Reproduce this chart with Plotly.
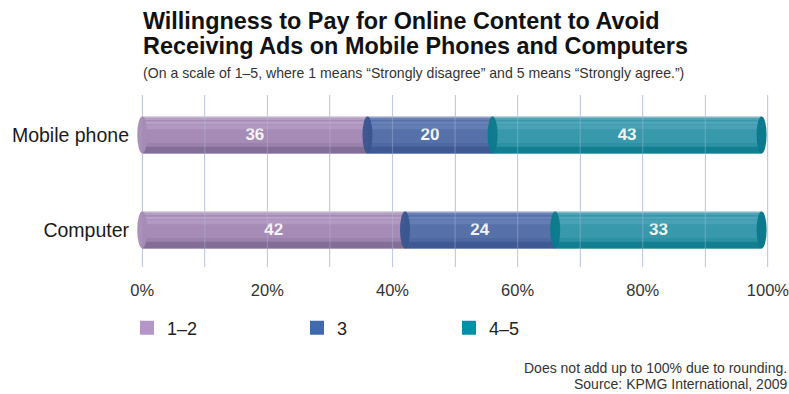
import plotly.graph_objects as go

# Survey data: share of respondents per agreement band
categories = ["Computer", "Mobile phone"]
band_names = ["1–2", "3", "4–5"]
band_values = {
    "1–2": [42, 36],
    "3": [24, 20],
    "4–5": [33, 43],
}
x_ticks = [0, 20, 40, 60, 80, 100]
x_tick_labels = ["0%", "20%", "40%", "60%", "80%", "100%"]

# Styling for each band: main, dark rim, light highlight, legend swatch
band_style = {
    "1–2": dict(main="#A58BB6", dark="#7C6892", light="#BBA6CA", swatch="#B497C8"),
    "3": dict(main="#5671A9", dark="#39558F", light="#6E88BB", swatch="#4169AE"),
    "4–5": dict(main="#3898AC", dark="#0B7A8C", light="#55AABB", swatch="#0090A8"),
}

FONT = "Liberation Sans, Arial, Helvetica, sans-serif"
W, H = 789, 394
L, R, T, B = 136, 18, 95, 127
PW, PH = W - L - R, H - T - B
BAR_W = 0.39


def px_x(p):
    return (p - L) / PW


def px_y(p):
    return (H - B - p) / PH


fig = go.Figure()

bases = [0 for _ in categories]
cap_shapes = []
for i, name in enumerate(band_names):
    vals = band_values[name]
    st = band_style[name]
    leg = "legend" if i == 0 else f"legend{i + 1}"
    # body of the cylinder segment
    fig.add_trace(go.Bar(
        y=categories, x=vals, base=bases, orientation="h", name=name,
        width=BAR_W, marker=dict(color=st["main"], line=dict(width=0)),
        text=[str(v) for v in vals], textposition="inside",
        insidetextanchor="middle", textangle=0,
        textfont=dict(family=FONT, size=17, color="#F4F4F4", weight="bold"),
        showlegend=False, hoverinfo="skip",
    ))
    # legend swatch for the band
    fig.add_trace(go.Bar(
        y=[None], x=[None], orientation="h", name=name,
        marker=dict(color=st["swatch"], line=dict(color=st["swatch"], width=2)),
        legend=leg, hoverinfo="skip",
    ))
    # shading strips: dark underside, soft highlights on the upper half
    strips = [
        (0.07, -BAR_W / 2, st["dark"], 0.85),
        (0.04, -BAR_W / 2 + 0.07, st["dark"], 0.25),
        (0.05, 0.06, st["light"], 0.55),
        (0.015, 0.125, st["light"], 0.8),
        (0.012, 0.16, st["light"], 0.7),
        (0.01, BAR_W / 2 - 0.01, "#E8E4EE", 0.45),
    ]
    for wdt, off, col, op in strips:
        fig.add_trace(go.Bar(
            y=categories, x=vals, base=bases, orientation="h",
            width=wdt, offset=off, marker=dict(color=col, opacity=op, line=dict(width=0)),
            showlegend=False, hoverinfo="skip",
        ))
    # elliptical rim where this segment starts
    for j, c in enumerate(categories):
        x0 = bases[j]
        cap_col = st["main"] if i == 0 else st["dark"]
        cap_shapes.append(dict(
            type="circle", xref="x", yref="y", layer="above",
            x0=x0 - 0.8, x1=x0 + 0.8, y0=j - BAR_W / 2, y1=j + BAR_W / 2,
            fillcolor=cap_col, line=dict(width=0), opacity=0.95,
        ))
    bases = [b + v for b, v in zip(bases, vals)]

# closing rim at the end of each bar
last = band_style[band_names[-1]]
for j, c in enumerate(categories):
    cap_shapes.append(dict(
        type="circle", xref="x", yref="y", layer="above",
        x0=bases[j] - 0.8, x1=bases[j] + 0.8, y0=j - BAR_W / 2, y1=j + BAR_W / 2,
        fillcolor=last["dark"], line=dict(width=0),
    ))

# faint gridlines seen through the translucent cylinders
grid_shapes = [
    dict(type="line", xref="x", yref="paper", layer="above",
         x0=g, x1=g, y0=0, y1=1, line=dict(color="#B8C0E0", width=1.2), opacity=0.35)
    for g in range(0, 101, 10)
]


def note(text, x, y, anchor, size, color="#333333", bold=False):
    return dict(text=text, x=px_x(x), y=px_y(y), xref="paper", yref="paper",
                xanchor=anchor, yanchor="middle", showarrow=False,
                font=dict(family=FONT, size=size, color=color,
                          weight="bold" if bold else "normal"))


annotations = [
    note("Willingness to Pay for Online Content to Avoid", 141, 21, "left", 23.4, "#111111", True),
    note("Receiving Ads on Mobile Phones and Computers", 141, 46, "left", 23.4, "#111111", True),
    note("(On a scale of 1–5, where 1 means “Strongly disagree” and 5 means “Strongly agree.”)",
         141, 73, "left", 14.1),
    note("Does not add up to 100% due to rounding.", 789, 368, "right", 14),
    note("Source: KPMG International, 2009", 789, 384, "right", 14),
]

legend_common = dict(orientation="h", yanchor="middle", xanchor="left",
                     font=dict(family=FONT, size=18, color="#222222"),
                     bgcolor="rgba(0,0,0,0)", itemclick=False)

fig.update_layout(
    width=W, height=H,
    margin=dict(l=L, r=R, t=T, b=B, autoexpand=False),
    paper_bgcolor="white", plot_bgcolor="white",
    barmode="overlay",
    xaxis=dict(range=[-1, 100.5], tickmode="array", tickvals=x_ticks, ticktext=x_tick_labels,
               showgrid=True, gridcolor="#C8CEE8", gridwidth=1.2,
               minor=dict(showgrid=True, dtick=10, gridcolor="#C8CEE8", gridwidth=1.2),
               zeroline=False, showline=False, ticks="", automargin=False,
               ticklabeloverflow="allow",
               tickfont=dict(family=FONT, size=16.5, color="#333333"),
               ticklabelstandoff=11),
    yaxis=dict(range=[-0.39, 1.42], showgrid=False, zeroline=False, showline=False,
               ticks="", automargin=False,
               tickfont=dict(family=FONT, size=19.5, color="#1A1A1A"),
               ticklabelstandoff=6),
    shapes=grid_shapes + cap_shapes,
    annotations=annotations,
    legend=dict(x=px_x(127), y=px_y(328), **legend_common),
    legend2=dict(x=px_x(297), y=px_y(328), **legend_common),
    legend3=dict(x=px_x(449), y=px_y(328), **legend_common),
    showlegend=True,
)

fig.write_html("out.html")
